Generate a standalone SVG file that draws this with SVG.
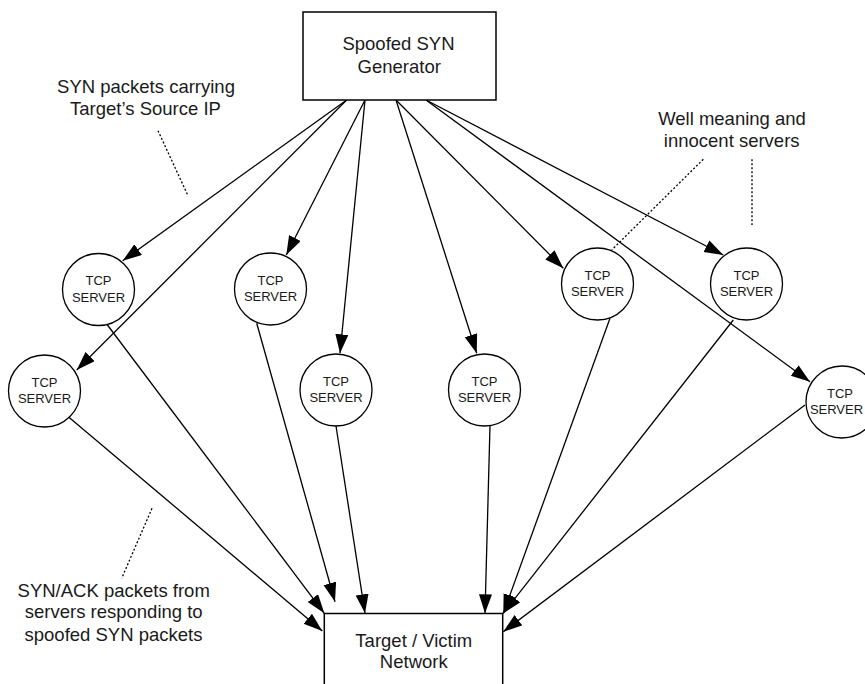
<svg xmlns="http://www.w3.org/2000/svg" width="865" height="684" viewBox="0 0 865 684">
<style>
  .box{fill:#fff;stroke:#000;stroke-width:1.5}
  .srv{fill:#fff;stroke:#000;stroke-width:1.3}
  .t{font-family:"Liberation Sans",Arial,sans-serif;fill:#1a1a1a;text-anchor:middle}
  .big{font-size:18.5px}
  .sm{font-size:13px}
  .edge{stroke:#000;stroke-width:1.3;fill:none;marker-end:url(#ah)}
  .dot{stroke:#000;stroke-width:1.3;fill:none;stroke-dasharray:2 2}
</style>
<defs>
  <marker id="ah" markerUnits="userSpaceOnUse" markerWidth="20" markerHeight="14" refX="19" refY="6.5" orient="auto">
    <path d="M0,0 L19,6.5 L0,13 z" fill="#000"/>
  </marker>
</defs>
<rect width="865" height="684" fill="#fff"/>
<g id="connectors">
  <line class="edge" x1="346.7" y1="100" x2="122.7" y2="260.7"/>
  <line class="edge" x1="346.7" y1="100" x2="76.7" y2="370"/>
  <line class="edge" x1="365" y1="100" x2="286.3" y2="255"/>
  <line class="edge" x1="365" y1="100" x2="340" y2="353.3"/>
  <line class="edge" x1="396" y1="100" x2="476.7" y2="353.3"/>
  <line class="edge" x1="396" y1="100" x2="563.3" y2="268.3"/>
  <line class="edge" x1="426" y1="100" x2="723.3" y2="255"/>
  <line class="edge" x1="426" y1="100" x2="810" y2="381.7"/>
  <line class="edge" x1="106.7" y1="324" x2="324.3" y2="613.3"/>
  <line class="edge" x1="68.3" y1="416.7" x2="322.3" y2="631"/>
  <line class="edge" x1="256.7" y1="323.3" x2="335" y2="601.7"/>
  <line class="edge" x1="336" y1="426" x2="365" y2="613.3"/>
  <line class="edge" x1="490" y1="425.5" x2="485" y2="613.3"/>
  <line class="edge" x1="610" y1="318.3" x2="503.3" y2="613.3"/>
  <line class="edge" x1="733.3" y1="320" x2="503.3" y2="613.3"/>
  <line class="edge" x1="805" y1="405" x2="503.3" y2="631.7"/>
</g>
<g id="annotations">
  <line class="dot" x1="158" y1="130.7" x2="187.7" y2="195"/>
  <line class="dot" x1="703.3" y1="159.3" x2="611.7" y2="250"/>
  <line class="dot" x1="752" y1="159.3" x2="752" y2="225"/>
  <line class="dot" x1="152" y1="508.3" x2="121.7" y2="578.3"/>
  <text class="t big" x="146" y="93.3">SYN packets carrying</text>
  <text class="t big" x="145.5" y="115">Target’s Source IP</text>
  <text class="t big" x="732" y="125">Well meaning and</text>
  <text class="t big" x="731.7" y="146.7">innocent servers</text>
  <text class="t big" x="113.7" y="596.7">SYN/ACK packets from</text>
  <text class="t big" x="113.7" y="618.3">servers responding to</text>
  <text class="t big" x="113.5" y="640.7">spoofed SYN packets</text>
</g>
<g id="generator">
  <rect class="box" x="303" y="12" width="193" height="88"/>
  <text class="t big" x="398.5" y="50">Spoofed SYN</text>
  <text class="t big" x="399.2" y="73">Generator</text>
</g>
<g id="target">
  <rect class="box" x="324.3" y="613.5" width="178.4" height="80"/>
  <text class="t big" x="413.8" y="646.7">Target / Victim</text>
  <text class="t big" x="413.8" y="668.3">Network</text>
</g>
<g id="server1">
  <circle class="srv" cx="98.5" cy="289.5" r="36"/>
  <text class="t sm" x="98.5" y="285">TCP</text>
  <text class="t sm" x="98.5" y="301.5">SERVER</text>
</g>
<g id="server2">
  <circle class="srv" cx="44.5" cy="391" r="36"/>
  <text class="t sm" x="44.5" y="386.5">TCP</text>
  <text class="t sm" x="44.5" y="403">SERVER</text>
</g>
<g id="server3">
  <circle class="srv" cx="270.5" cy="289" r="36"/>
  <text class="t sm" x="270.5" y="284.5">TCP</text>
  <text class="t sm" x="270.5" y="301">SERVER</text>
</g>
<g id="server4">
  <circle class="srv" cx="336" cy="390" r="36"/>
  <text class="t sm" x="336" y="385.5">TCP</text>
  <text class="t sm" x="336" y="402">SERVER</text>
</g>
<g id="server5">
  <circle class="srv" cx="484.5" cy="390" r="36"/>
  <text class="t sm" x="484.5" y="385.5">TCP</text>
  <text class="t sm" x="484.5" y="402">SERVER</text>
</g>
<g id="server6">
  <circle class="srv" cx="597.5" cy="284" r="36"/>
  <text class="t sm" x="597.5" y="279.5">TCP</text>
  <text class="t sm" x="597.5" y="296">SERVER</text>
</g>
<g id="server7">
  <circle class="srv" cx="746.5" cy="284" r="36"/>
  <text class="t sm" x="746.5" y="279.5">TCP</text>
  <text class="t sm" x="746.5" y="296">SERVER</text>
</g>
<g id="server8">
  <circle class="srv" cx="842" cy="402" r="36"/>
  <text class="t sm" x="840" y="397.5">TCP</text>
  <text class="t sm" x="836.5" y="414">SERVER</text>
</g>
</svg>
